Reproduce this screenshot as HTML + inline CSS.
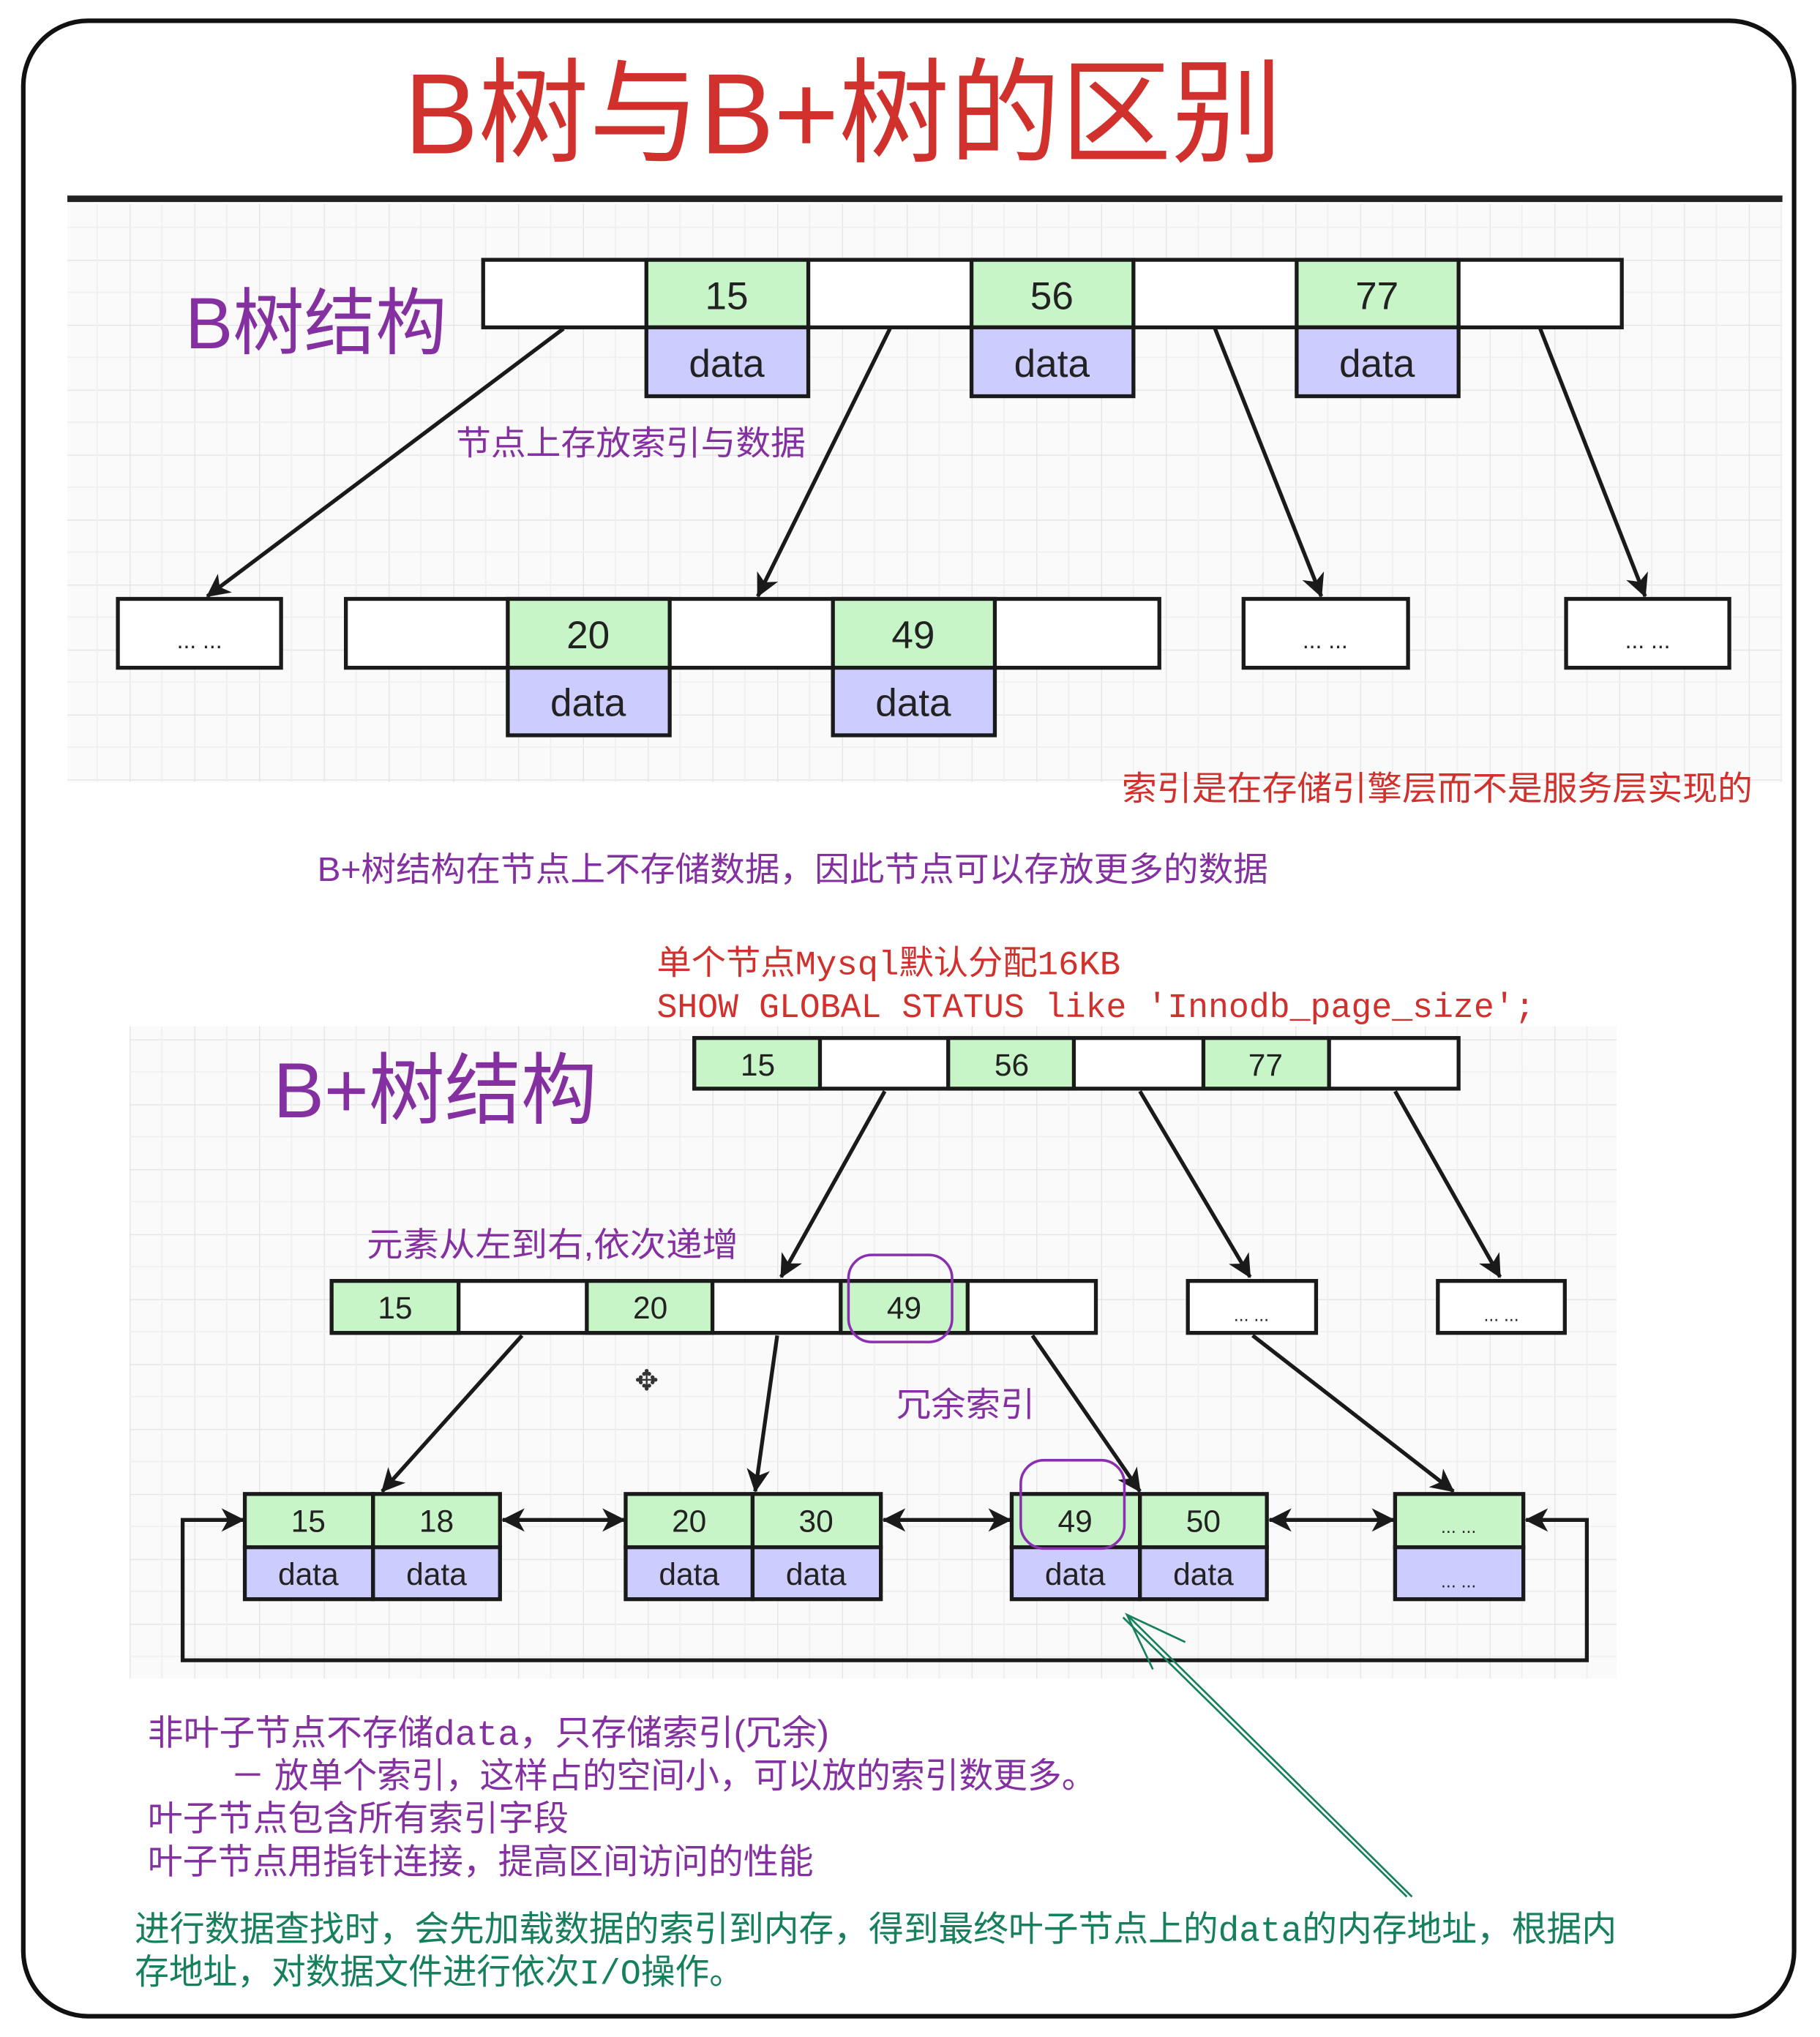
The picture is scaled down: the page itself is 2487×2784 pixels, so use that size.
<!DOCTYPE html>
<html><head><meta charset="utf-8"><style>
html,body{margin:0;padding:0;background:#fff}
svg{display:block}
text{font-family:"Liberation Sans","Noto Sans CJK SC",sans-serif}
.m{font-family:"Liberation Mono","Noto Sans CJK SC",monospace}
</style></head><body>
<svg width="2487" height="2784" viewBox="0 0 1405 1568" preserveAspectRatio="none" xmlns="http://www.w3.org/2000/svg">
<defs>
<pattern id="g" width="50" height="50" patternUnits="userSpaceOnUse">
<rect width="50" height="50" fill="#fafafa"/>
<path d="M0 0H50M0 0V50" stroke="#e4e4e4" stroke-width="1.5"/>
<path d="M0 25H50M25 0V50" stroke="#efefef" stroke-width="1"/>
</pattern>
<marker id="A" markerWidth="18" markerHeight="18" refX="17" refY="9" orient="auto" markerUnits="userSpaceOnUse" viewBox="0 0 18 18">
<path d="M0 0L18 9L0 18L5 9Z" fill="#1a1a1a"/></marker>
<marker id="as" markerWidth="18" markerHeight="18" refX="1" refY="9" orient="auto" markerUnits="userSpaceOnUse" viewBox="0 0 18 18">
<path d="M18 0L0 9L18 18L13 9Z" fill="#1a1a1a"/></marker>
</defs>
<rect x="18" y="16" width="1367" height="1536" rx="50" fill="#fff" stroke="#111" stroke-width="3.5"/>
<text x="312" y="118" font-size="88" fill="#d0312d" textLength="678" lengthAdjust="spacingAndGlyphs">B树与B+树的区别</text>
<line x1="52" y1="153" x2="1376" y2="153" stroke="#222" stroke-width="5"/>
<rect x="52" y="157" width="1324" height="445" fill="url(#g)"/>
<text x="143" y="268" font-size="56" fill="#8530a0" textLength="202" lengthAdjust="spacingAndGlyphs">B树结构</text>
<g stroke="#1a1a1a" stroke-width="3">
<rect x="373" y="200" width="879" height="52" fill="#fff"/>
<rect x="499" y="200" width="125" height="52" fill="#c8f5c8"/>
<rect x="750" y="200" width="125" height="52" fill="#c8f5c8"/>
<rect x="1001" y="200" width="125" height="52" fill="#c8f5c8"/>
<rect x="499" y="252" width="125" height="53" fill="#ccccff"/>
<rect x="750" y="252" width="125" height="53" fill="#ccccff"/>
<rect x="1001" y="252" width="125" height="53" fill="#ccccff"/>
<rect x="91" y="461" width="126" height="53" fill="#fff"/>
<rect x="267" y="461" width="628" height="53" fill="#fff"/>
<rect x="392" y="461" width="125" height="53" fill="#c8f5c8"/>
<rect x="643" y="461" width="125" height="53" fill="#c8f5c8"/>
<rect x="392" y="514" width="125" height="52" fill="#ccccff"/>
<rect x="643" y="514" width="125" height="52" fill="#ccccff"/>
<rect x="960" y="461" width="127" height="53" fill="#fff"/>
<rect x="1209" y="461" width="126" height="53" fill="#fff"/>
</g>
<g stroke="#1a1a1a" stroke-width="3" marker-end="url(#A)">
<line x1="435" y1="253" x2="160" y2="459"/>
<line x1="687" y1="253" x2="585" y2="459"/>
<line x1="938" y1="253" x2="1020" y2="459"/>
<line x1="1189" y1="253" x2="1270" y2="459"/>
</g>
<g font-size="30" fill="#222" text-anchor="middle">
<text x="561" y="238">15</text><text x="812" y="238">56</text><text x="1063" y="238">77</text>
<text x="561" y="290">data</text><text x="812" y="290">data</text><text x="1063" y="290">data</text>
<text x="454" y="499">20</text><text x="705" y="499">49</text>
<text x="454" y="551">data</text><text x="705" y="551">data</text>
<text x="154" y="499" font-size="18">... ...</text><text x="1023" y="499" font-size="18">... ...</text><text x="1272" y="499" font-size="18">... ...</text>
</g>
<text x="352" y="350" font-size="26" fill="#8530a0" textLength="270" lengthAdjust="spacingAndGlyphs">节点上存放索引与数据</text>
<text x="866" y="616" font-size="26" fill="#d0312d" textLength="487" lengthAdjust="spacingAndGlyphs">索引是在存储引擎层而不是服务层实现的</text>
<text x="245" y="678" font-size="26" fill="#8530a0" textLength="734" lengthAdjust="spacingAndGlyphs">B+树结构在节点上不存储数据，因此节点可以存放更多的数据</text>
<text x="507" y="750" font-size="26" fill="#d0312d" class="m" textLength="358" lengthAdjust="spacingAndGlyphs">单个节点Mysql默认分配16KB</text>
<text x="507" y="783" font-size="26.5" fill="#d0312d" class="m" textLength="678" lengthAdjust="spacingAndGlyphs">SHOW GLOBAL STATUS like 'Innodb_page_size';</text>
<rect x="100" y="790" width="1148" height="502" fill="url(#g)"/>
<text x="211" y="860" font-size="60" fill="#8530a0" textLength="250" lengthAdjust="spacingAndGlyphs">B+树结构</text>
<g stroke="#1a1a1a" stroke-width="3">
<rect x="536" y="799" width="590" height="39" fill="#fff"/>
<rect x="536" y="799" width="97" height="39" fill="#c8f5c8"/>
<rect x="732" y="799" width="97" height="39" fill="#c8f5c8"/>
<rect x="929" y="799" width="97" height="39" fill="#c8f5c8"/>
<rect x="256" y="986" width="590" height="40" fill="#fff"/>
<rect x="256" y="986" width="98" height="40" fill="#c8f5c8"/>
<rect x="453" y="986" width="97" height="40" fill="#c8f5c8"/>
<rect x="649" y="986" width="98" height="40" fill="#c8f5c8"/>
<rect x="917" y="986" width="99" height="40" fill="#fff"/>
<rect x="1110" y="986" width="98" height="40" fill="#fff"/>
<rect x="189" y="1150" width="99" height="41" fill="#c8f5c8"/><rect x="288" y="1150" width="98" height="41" fill="#c8f5c8"/>
<rect x="189" y="1191" width="99" height="40" fill="#ccccff"/><rect x="288" y="1191" width="98" height="40" fill="#ccccff"/>
<rect x="483" y="1150" width="98" height="41" fill="#c8f5c8"/><rect x="581" y="1150" width="99" height="41" fill="#c8f5c8"/>
<rect x="483" y="1191" width="98" height="40" fill="#ccccff"/><rect x="581" y="1191" width="99" height="40" fill="#ccccff"/>
<rect x="781" y="1150" width="99" height="41" fill="#c8f5c8"/><rect x="880" y="1150" width="98" height="41" fill="#c8f5c8"/>
<rect x="781" y="1191" width="99" height="40" fill="#ccccff"/><rect x="880" y="1191" width="98" height="40" fill="#ccccff"/>
<rect x="1077" y="1150" width="99" height="41" fill="#c8f5c8"/>
<rect x="1077" y="1191" width="99" height="40" fill="#ccccff"/>
</g>
<g stroke="#1a1a1a" stroke-width="3" fill="none" marker-end="url(#A)">
<line x1="683" y1="840" x2="603" y2="983"/>
<line x1="880" y1="840" x2="965" y2="983"/>
<line x1="1077" y1="840" x2="1158" y2="983"/>
<line x1="403" y1="1028" x2="295" y2="1148"/>
<line x1="600" y1="1028" x2="583" y2="1148"/>
<line x1="797" y1="1028" x2="880" y2="1148"/>
<line x1="967" y1="1028" x2="1122" y2="1148"/>
<line x1="388" y1="1170" x2="482" y2="1170" marker-start="url(#as)"/>
<line x1="682" y1="1170" x2="780" y2="1170" marker-start="url(#as)"/>
<line x1="980" y1="1170" x2="1076" y2="1170" marker-start="url(#as)"/>
<path d="M1178 1170H1225V1278H141V1170H188" marker-start="url(#as)"/>
</g>
<g font-size="24" fill="#222" text-anchor="middle">
<text x="585" y="828">15</text><text x="781" y="828">56</text><text x="977" y="828">77</text>
<text x="305" y="1015">15</text><text x="502" y="1015">20</text><text x="698" y="1015">49</text>
<text x="238" y="1179">15</text><text x="337" y="1179">18</text><text x="532" y="1179">20</text><text x="630" y="1179">30</text>
<text x="830" y="1179">49</text><text x="929" y="1179">50</text>
<text x="238" y="1220">data</text><text x="337" y="1220">data</text><text x="532" y="1220">data</text><text x="630" y="1220">data</text>
<text x="830" y="1220">data</text><text x="929" y="1220">data</text>
<text x="966" y="1017" font-size="14">... ...</text><text x="1159" y="1017" font-size="14">... ...</text>
<text x="1126" y="1180" font-size="14">... ...</text><text x="1126" y="1222" font-size="14">... ...</text>
</g>
<rect x="655" y="966" width="80" height="67" rx="18" fill="none" stroke="#8a2fb0" stroke-width="2"/>
<rect x="788" y="1124" width="80" height="68" rx="18" fill="none" stroke="#8a2fb0" stroke-width="2"/>
<text x="283" y="967" font-size="26" fill="#8530a0" textLength="287" lengthAdjust="spacingAndGlyphs">元素从左到右,依次递增</text>
<text x="692" y="1090" font-size="26" fill="#8530a0" textLength="107" lengthAdjust="spacingAndGlyphs">冗余索引</text>
<text x="490" y="1070" font-size="22" fill="#333">✥</text>
<g stroke="#16805a" stroke-width="1.5" fill="none">
<line x1="1090" y1="1460" x2="870" y2="1243"/>
<line x1="1086" y1="1460" x2="867" y2="1245"/>
<path d="M915 1264L870 1243L890 1285"/>
</g>
<g font-size="27" fill="#8530a0">
<text x="114" y="1343" textLength="526" lengthAdjust="spacingAndGlyphs">非叶子节点不存储<tspan class="m">data</tspan>，只存储索引(冗余)</text>
<text x="178" y="1376" textLength="668" lengthAdjust="spacingAndGlyphs">－ 放单个索引，这样占的空间小，可以放的索引数更多。</text>
<text x="114" y="1409" textLength="325" lengthAdjust="spacingAndGlyphs">叶子节点包含所有索引字段</text>
<text x="114" y="1442" textLength="514" lengthAdjust="spacingAndGlyphs">叶子节点用指针连接，提高区间访问的性能</text>
</g>
<g font-size="27" fill="#16805a">
<text x="104" y="1494" textLength="1144" lengthAdjust="spacingAndGlyphs">进行数据查找时，会先加载数据的索引到内存，得到最终叶子节点上的<tspan class="m">data</tspan>的内存地址，根据内</text>
<text x="104" y="1527" textLength="470" lengthAdjust="spacingAndGlyphs">存地址，对数据文件进行依次<tspan class="m">I/O</tspan>操作。</text>
</g>
</svg>
</body></html>
